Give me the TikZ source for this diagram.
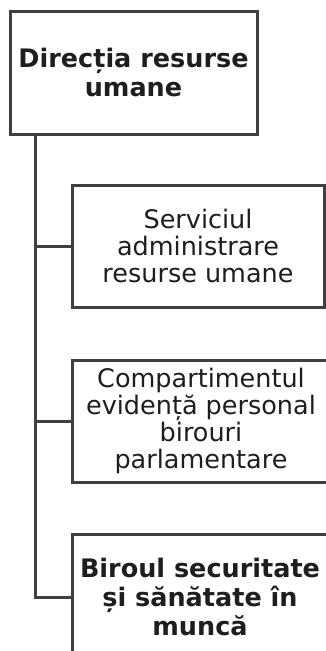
\documentclass[tikz,border=0pt]{standalone}
\usepackage{fontspec}
\setmainfont{DejaVu Sans}
\definecolor{linec}{HTML}{404040}
\definecolor{textc}{HTML}{1E1E1E}
\begin{document}
\begin{tikzpicture}[x=1pt,y=-1pt,
  unit/.style={draw=linec, line width=3pt, rectangle, fill=white, inner sep=0pt,
    align=center, text=textc, minimum width=252pt, minimum height=122pt,
    font=\fontsize{25.5}{27}\selectfont},
  boldunit/.style={unit, font=\fontsize{25.5}{29}\selectfont\bfseries},
  link/.style={draw=linec, line width=3pt}]
\useasboundingbox (0,0) rectangle (326,651);
\clip (0,0) rectangle (326,651);
\fill[white] (0,0) rectangle (326,651);
\node[boldunit, minimum width=247pt, minimum height=123pt] (top) at (133.5,72.5) {Direcția resurse\\umane};
\node[unit] (b2) at (198,246) {Serviciul\\administrare\\resurse umane};
\node[unit, minimum width=258pt] (b3) at (201,421) {Compartimentul\\evidență personal\\birouri\\parlamentare};
\node[boldunit, minimum width=256pt, minimum height=126pt] (b4) at (200,597) {Biroul securitate\\și sănătate în\\muncă};
\coordinate (sp) at (35,134);
\draw[link] (top.south -| sp) -- (sp |- b4.west) -- (b4.west);
\draw[link] (sp |- b2.west) -- (b2.west);
\draw[link] (sp |- b3.west) -- (b3.west);
\end{tikzpicture}
\end{document}
